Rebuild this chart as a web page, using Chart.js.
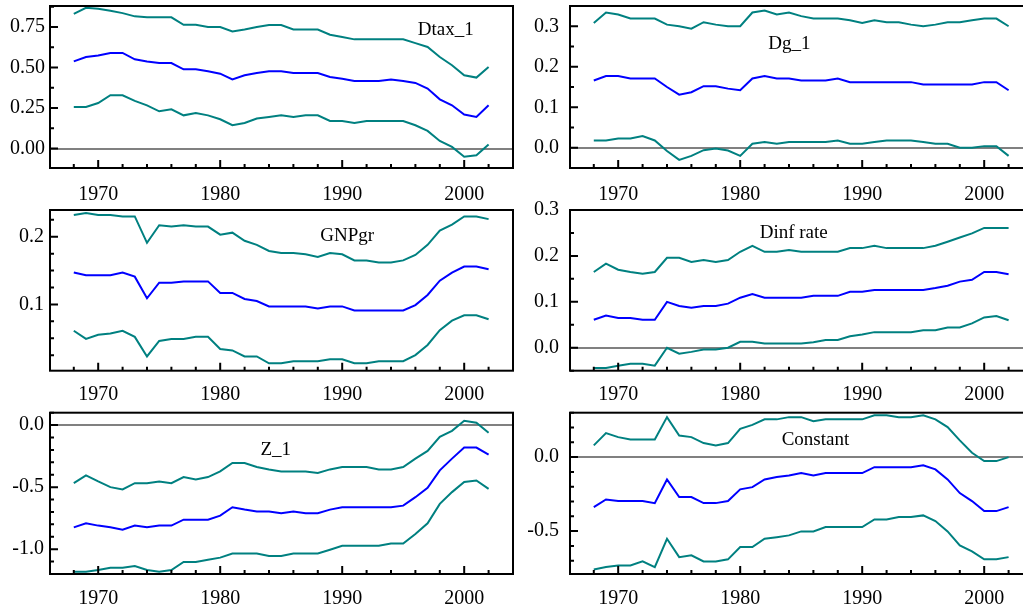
<!DOCTYPE html>
<html>
<head>
<meta charset="utf-8">
<script src="https://cdn.jsdelivr.net/npm/chart.js@4.4.1/dist/chart.umd.min.js"></script>
<style>
html, body { margin: 0; padding: 0; background: #fff; overflow: hidden; width: 1023px; height: 604px; }
canvas { position: absolute; }
</style>
</head>
<body>
<canvas id="dtax" width="520" height="202" style="left:0;top:0"></canvas>
<canvas id="dg" width="520" height="202" style="left:520px;top:0"></canvas>
<canvas id="gnp" width="520" height="208" style="left:0;top:196px"></canvas>
<canvas id="dinf" width="520" height="208" style="left:520px;top:196px"></canvas>
<canvas id="z1" width="520" height="206" style="left:0;top:398px"></canvas>
<canvas id="cons" width="520" height="206" style="left:520px;top:398px"></canvas>
<script>
"use strict";

// År (x-axel) och årtal som skrivs ut
const years = [1968, 1969, 1970, 1971, 1972, 1973, 1974, 1975, 1976, 1977, 1978, 1979,
    1980, 1981, 1982, 1983, 1984, 1985, 1986, 1987, 1988, 1989, 1990, 1991, 1992, 1993,
    1994, 1995, 1996, 1997, 1998, 1999, 2000, 2001, 2002];
const xTickLabels = [1970, 1980, 1990, 2000];

// Dtax_1
const dtaxUpper = [0.832, 0.869, 0.863, 0.85, 0.836, 0.816, 0.81, 0.81, 0.81, 0.764, 0.764, 0.75,
    0.75, 0.723, 0.735, 0.75, 0.762, 0.762, 0.735, 0.735, 0.735, 0.703, 0.688, 0.674, 0.674, 0.674,
    0.674, 0.674, 0.651, 0.627, 0.565, 0.514, 0.452, 0.438, 0.503];
const dtaxCoef = [0.538, 0.565, 0.575, 0.59, 0.59, 0.551, 0.538, 0.528, 0.528, 0.489, 0.489, 0.477,
    0.462, 0.427, 0.452, 0.466, 0.477, 0.477, 0.466, 0.466, 0.466, 0.442, 0.431, 0.417, 0.417, 0.417,
    0.427, 0.417, 0.405, 0.37, 0.304, 0.267, 0.21, 0.195, 0.267];
const dtaxLower = [0.257, 0.257, 0.281, 0.329, 0.329, 0.294, 0.267, 0.23, 0.242, 0.205, 0.22, 0.205,
    0.181, 0.144, 0.158, 0.185, 0.195, 0.205, 0.195, 0.205, 0.205, 0.17, 0.17, 0.158, 0.17, 0.17,
    0.17, 0.17, 0.144, 0.109, 0.047, 0.01, -0.051, -0.041, 0.025];
const dtaxTicks = [0, 0.25, 0.5, 0.75];

// Dg_1
const dgUpper = [0.308, 0.334, 0.329, 0.319, 0.319, 0.319, 0.304, 0.3, 0.294, 0.31, 0.304, 0.3,
    0.3, 0.334, 0.339, 0.329, 0.334, 0.325, 0.319, 0.319, 0.319, 0.315, 0.308, 0.315, 0.31, 0.31,
    0.304, 0.3, 0.304, 0.31, 0.31, 0.315, 0.319, 0.319, 0.3];
const dgCoef = [0.166, 0.177, 0.177, 0.171, 0.171, 0.171, 0.15, 0.131, 0.137, 0.152, 0.152, 0.146,
    0.142, 0.171, 0.177, 0.171, 0.171, 0.166, 0.166, 0.166, 0.171, 0.162, 0.162, 0.162, 0.162, 0.162,
    0.162, 0.156, 0.156, 0.156, 0.156, 0.156, 0.162, 0.162, 0.142];
const dgLower = [0.018, 0.018, 0.023, 0.023, 0.029, 0.018, -0.008, -0.03, -0.02, -0.006, -0.002, -0.007,
    -0.02, 0.01, 0.014, 0.01, 0.014, 0.014, 0.014, 0.014, 0.018, 0.01, 0.01, 0.014, 0.018, 0.018,
    0.018, 0.014, 0.01, 0.01, 0, 0, 0.004, 0.004, -0.02];
const dgTicks = [0, 0.1, 0.2, 0.3];

// GNPgr
const gnpUpper = [0.232, 0.235, 0.232, 0.232, 0.23, 0.23, 0.191, 0.217, 0.215, 0.217, 0.215, 0.215,
    0.203, 0.206, 0.194, 0.188, 0.179, 0.176, 0.176, 0.174, 0.17, 0.176, 0.174, 0.165, 0.165, 0.162,
    0.162, 0.165, 0.173, 0.188, 0.209, 0.218, 0.23, 0.23, 0.226];
const gnpCoef = [0.147, 0.143, 0.143, 0.143, 0.147, 0.141, 0.109, 0.132, 0.132, 0.134, 0.134, 0.134,
    0.117, 0.117, 0.108, 0.105, 0.097, 0.097, 0.097, 0.097, 0.094, 0.097, 0.097, 0.091, 0.091, 0.091,
    0.091, 0.091, 0.099, 0.114, 0.135, 0.147, 0.156, 0.156, 0.152];
const gnpLower = [0.061, 0.049, 0.055, 0.057, 0.061, 0.052, 0.023, 0.046, 0.049, 0.049, 0.052, 0.052,
    0.034, 0.032, 0.023, 0.023, 0.013, 0.013, 0.016, 0.016, 0.016, 0.019, 0.019, 0.013, 0.013, 0.016,
    0.016, 0.016, 0.025, 0.04, 0.062, 0.076, 0.084, 0.084, 0.078];
const gnpTicks = [0.1, 0.2];

// Dinf rate
const dinfUpper = [0.165, 0.183, 0.17, 0.165, 0.161, 0.165, 0.196, 0.196, 0.187, 0.191, 0.187, 0.191,
    0.209, 0.222, 0.209, 0.209, 0.213, 0.209, 0.209, 0.209, 0.209, 0.217, 0.217, 0.222, 0.217, 0.217,
    0.217, 0.217, 0.222, 0.231, 0.24, 0.249, 0.261, 0.261, 0.261];
const dinfCoef = [0.061, 0.07, 0.065, 0.065, 0.061, 0.061, 0.1, 0.091, 0.087, 0.091, 0.091, 0.096,
    0.109, 0.117, 0.109, 0.109, 0.109, 0.109, 0.113, 0.113, 0.113, 0.122, 0.122, 0.126, 0.126, 0.126,
    0.126, 0.126, 0.13, 0.135, 0.144, 0.148, 0.165, 0.165, 0.16];
const dinfLower = [-0.044, -0.044, -0.039, -0.035, -0.035, -0.039, 0.0, -0.013, -0.009, -0.004, -0.004, 0.0,
    0.013, 0.013, 0.009, 0.009, 0.009, 0.009, 0.012, 0.017, 0.017, 0.025, 0.029, 0.034, 0.034, 0.034,
    0.034, 0.038, 0.038, 0.044, 0.044, 0.053, 0.066, 0.069, 0.06];
const dinfTicks = [0, 0.1, 0.2, 0.3];

// Z_1
const zUpper = [-0.468, -0.405, -0.454, -0.5, -0.519, -0.468, -0.468, -0.454, -0.468, -0.419, -0.438, -0.419,
    -0.373, -0.305, -0.305, -0.338, -0.357, -0.373, -0.373, -0.373, -0.386, -0.357, -0.338, -0.338, -0.338, -0.357,
    -0.357, -0.338, -0.27, -0.208, -0.095, -0.046, 0.035, 0.019, -0.062];
const zCoef = [-0.824, -0.792, -0.81, -0.824, -0.843, -0.81, -0.824, -0.81, -0.81, -0.762, -0.762, -0.762,
    -0.73, -0.662, -0.681, -0.697, -0.697, -0.711, -0.697, -0.711, -0.711, -0.681, -0.662, -0.662, -0.662, -0.662,
    -0.662, -0.649, -0.581, -0.505, -0.365, -0.27, -0.181, -0.181, -0.238];
const zLower = [-1.181, -1.181, -1.168, -1.149, -1.149, -1.135, -1.168, -1.181, -1.168, -1.103, -1.103, -1.086,
    -1.068, -1.035, -1.035, -1.035, -1.054, -1.054, -1.035, -1.035, -1.035, -1.005, -0.973, -0.973, -0.973, -0.973,
    -0.954, -0.954, -0.878, -0.792, -0.635, -0.54, -0.459, -0.446, -0.514];
const zTicks = [-1, -0.5, 0];

// Constant
const consUpper = [0.079, 0.162, 0.135, 0.119, 0.119, 0.119, 0.27, 0.146, 0.135, 0.095, 0.079, 0.095,
    0.191, 0.218, 0.255, 0.255, 0.27, 0.27, 0.243, 0.255, 0.255, 0.255, 0.255, 0.282, 0.282, 0.27,
    0.27, 0.282, 0.255, 0.203, 0.113, 0.029, -0.027, -0.027, 0];
const consCoef = [-0.338, -0.286, -0.297, -0.297, -0.297, -0.311, -0.151, -0.27, -0.27, -0.311, -0.311, -0.297,
    -0.218, -0.203, -0.151, -0.135, -0.124, -0.108, -0.124, -0.108, -0.108, -0.108, -0.108, -0.068, -0.068, -0.068,
    -0.068, -0.056, -0.083, -0.151, -0.243, -0.297, -0.365, -0.365, -0.338];
const consLower = [-0.759, -0.743, -0.732, -0.732, -0.705, -0.743, -0.552, -0.676, -0.664, -0.705, -0.705, -0.691,
    -0.608, -0.608, -0.552, -0.541, -0.529, -0.502, -0.502, -0.473, -0.473, -0.473, -0.473, -0.421, -0.421, -0.405,
    -0.405, -0.394, -0.432, -0.502, -0.597, -0.637, -0.691, -0.691, -0.676];
const consTicks = [-0.5, 0];

const teal = '#008080';
const blue = '#0000ff';
const fontFamily = '"Liberation Serif", "Times New Roman", serif';

// Ram runt diagrammet, inåtvända streck och namnet på variabeln
const frameTicks = {
    id: 'frameTicks',
    afterDraw(chart, args, opts) {
        const { ctx, chartArea: a, scales: { x, y } } = chart;
        ctx.save();
        ctx.strokeStyle = '#000';
        ctx.lineWidth = 2;
        ctx.beginPath();
        for (let v = 1968; v <= 2002; v += 2) {
            const px = x.getPixelForValue(v);
            const len = xTickLabels.includes(v) ? 8 : 4;
            ctx.moveTo(px, a.bottom);
            ctx.lineTo(px, a.bottom - len);
        }
        const step = opts.minorStep;
        const k0 = Math.ceil(y.min / step - 1e-9);
        const k1 = Math.floor(y.max / step + 1e-9);
        for (let k = k0; k <= k1; k++) {
            const v = k * step;
            const major = opts.ticks.some(t => Math.abs(t - v) < 1e-9);
            const py = y.getPixelForValue(v);
            ctx.moveTo(a.left, py);
            ctx.lineTo(a.left + (major ? 8 : 4), py);
        }
        ctx.stroke();
        ctx.strokeRect(a.left, a.top, a.right - a.left, a.bottom - a.top);

        ctx.fillStyle = '#000';
        ctx.font = '19px ' + fontFamily;
        ctx.textAlign = 'left';
        ctx.textBaseline = 'alphabetic';
        ctx.fillText(opts.title, x.getPixelForValue(opts.titleX), y.getPixelForValue(opts.titleY));
        ctx.restore();
    }
};

function drawPanel(id, p) {
    const ctx = document.getElementById(id);
    const line = (values, color) => ({
        data: values.map((v, i) => ({ x: years[i], y: v })),
        borderColor: color,
        borderWidth: 2,
        pointRadius: 0,
        tension: 0
    });

    new Chart(ctx, {
        type: 'line',
        data: {
            datasets: [line(p.upper, teal), line(p.lower, teal), line(p.coef, blue)]
        },
        options: {
            responsive: false,
            animation: false,
            events: [],
            layout: { padding: { top: p.top, right: 7, left: 0, bottom: 0 } },
            plugins: {
                legend: { display: false },
                tooltip: { enabled: false },
                frameTicks: {
                    ticks: p.ticks, minorStep: p.minorStep,
                    title: p.title, titleX: p.titleX, titleY: p.titleY
                }
            },
            scales: {
                x: {
                    type: 'linear',
                    min: 1966.05,
                    max: 2004,
                    grid: { display: false },
                    border: { display: false },
                    afterBuildTicks: (scale) => {
                        scale.ticks = xTickLabels.map(v => ({ value: v }));
                    },
                    afterFit: (scale) => {
                        scale.height = p.bottom;
                        scale.paddingLeft = 0;
                        scale.paddingRight = 0;
                    },
                    ticks: {
                        color: '#000',
                        padding: p.xPad,
                        maxRotation: 0,
                        font: { family: fontFamily, size: 20 },
                        callback: (v) => String(v)
                    }
                },
                y: {
                    min: p.min,
                    max: p.max,
                    grid: {
                        drawTicks: false,
                        lineWidth: 2,
                        color: (c) => (c.tick && c.tick.value === 0) ? '#808080' : 'rgba(0,0,0,0)'
                    },
                    border: { display: false },
                    afterBuildTicks: (scale) => {
                        scale.ticks = p.ticks.map(v => ({ value: v }));
                    },
                    afterFit: (scale) => {
                        scale.width = 50;
                        scale.paddingTop = 0;
                        scale.paddingBottom = 0;
                    },
                    ticks: {
                        color: '#000',
                        padding: p.labelPad,
                        font: { family: fontFamily, size: 20 },
                        callback: (v) => Number(v).toFixed(p.decimals)
                    }
                }
            }
        },
        plugins: [frameTicks]
    });
}

drawPanel('dtax', {
    upper: dtaxUpper, coef: dtaxCoef, lower: dtaxLower, ticks: dtaxTicks,
    min: -0.12, max: 0.88, minorStep: 0.125, decimals: 2, labelPad: 5, xPad: 6.5,
    top: 6, bottom: 34, title: 'Dtax_1', titleX: 1996.2, titleY: 0.70
});
drawPanel('dg', {
    upper: dgUpper, coef: dgCoef, lower: dgLower, ticks: dgTicks,
    min: -0.05, max: 0.35, minorStep: 0.05, decimals: 1, labelPad: 11, xPad: 6.5,
    top: 6, bottom: 34, title: 'Dg_1', titleX: 1982.3, titleY: 0.244
});
drawPanel('gnp', {
    upper: gnpUpper, coef: gnpCoef, lower: gnpLower, ticks: gnpTicks,
    min: 0.002, max: 0.2395, minorStep: 0.025, decimals: 1, labelPad: 6, xPad: 4,
    top: 14, bottom: 33.3, title: 'GNPgr', titleX: 1988.2, titleY: 0.194
});
drawPanel('dinf', {
    upper: dinfUpper, coef: dinfCoef, lower: dinfLower, ticks: dinfTicks,
    min: -0.05, max: 0.3, minorStep: 0.05, decimals: 1, labelPad: 11, xPad: 4,
    top: 14, bottom: 33.3, title: 'Dinf rate', titleX: 1981.6, titleY: 0.24
});
drawPanel('z1', {
    upper: zUpper, coef: zCoef, lower: zLower, ticks: zTicks,
    min: -1.2, max: 0.1, minorStep: 0.1, decimals: 1, labelPad: 6, xPad: 5,
    top: 14.7, bottom: 30, title: 'Z_1', titleX: 1983.3, titleY: -0.243
});
drawPanel('cons', {
    upper: consUpper, coef: consCoef, lower: consLower, ticks: consTicks,
    min: -0.79, max: 0.3, minorStep: 0.1, decimals: 1, labelPad: 11, xPad: 5,
    top: 14.7, bottom: 30, title: 'Constant', titleX: 1983.4, titleY: 0.079
});
</script>
</body>
</html>
